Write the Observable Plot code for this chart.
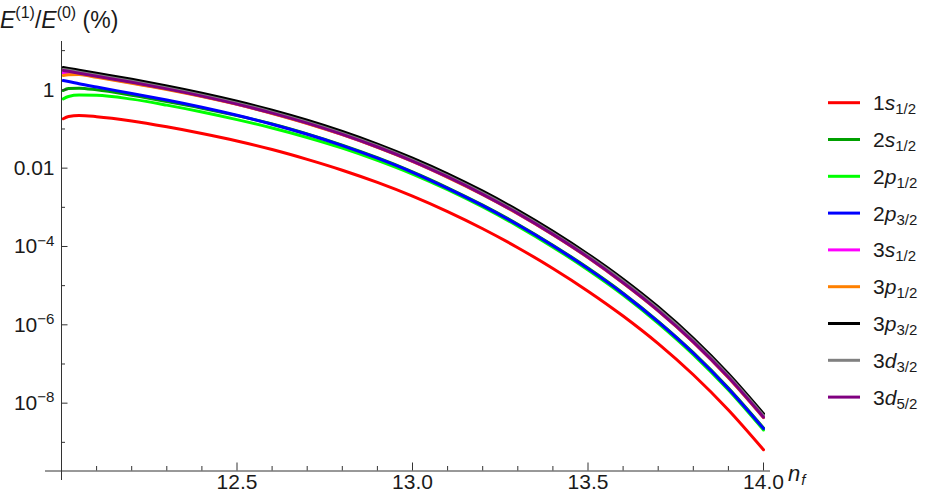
<!DOCTYPE html>
<html><head><meta charset="utf-8">
<script src="https://cdn.jsdelivr.net/npm/d3@7"></script>
<script src="https://cdn.jsdelivr.net/npm/@observablehq/plot@0.6"></script>
<style>body{margin:0;background:#fff}</style>
</head><body><div id="chart"></div>
<script>
// n_f sample positions
const nf = [12.005, 12.02, 12.05, 12.1, 12.2, 12.3, 12.4, 12.5, 12.6, 12.7, 12.8, 12.9, 13.0, 13.1, 13.2, 13.3, 13.4, 13.5, 13.6, 13.7, 13.8, 13.9, 14.0];
// log10 of E(1)/E(0) in %
const s1s12 = [-0.740, -0.682, -0.656, -0.685, -0.795, -0.945, -1.115, -1.305, -1.525, -1.776, -2.053, -2.365, -2.715, -3.110, -3.548, -4.031, -4.561, -5.140, -5.775, -6.480, -7.275, -8.175, -9.190];
const s2s12 = [-0.018, 0.033, 0.043, 0.000, -0.140, -0.300, -0.470, -0.660, -0.872, -1.126, -1.413, -1.735, -2.095, -2.500, -2.943, -3.431, -3.966, -4.550, -5.190, -5.910, -6.710, -7.615, -8.635];
const s2p12 = [-0.230, -0.171, -0.135, -0.140, -0.238, -0.391, -0.566, -0.761, -0.975, -1.216, -1.488, -1.800, -2.150, -2.550, -2.993, -3.481, -4.016, -4.600, -5.240, -5.960, -6.760, -7.665, -8.685];
const s2p32 = [0.237, 0.212, 0.156, 0.071, -0.093, -0.261, -0.446, -0.651, -0.880, -1.136, -1.423, -1.745, -2.105, -2.515, -2.958, -3.446, -3.981, -4.565, -5.205, -5.925, -6.725, -7.630, -8.650];
const s3s12 = [0.434, 0.421, 0.401, 0.335, 0.180, 0.017, -0.166, -0.369, -0.600, -0.856, -1.143, -1.465, -1.825, -2.230, -2.673, -3.161, -3.696, -4.280, -4.930, -5.640, -6.440, -7.345, -8.365];
const s3p12 = [0.365, 0.386, 0.391, 0.320, 0.170, 0.010, -0.170, -0.372, -0.603, -0.859, -1.146, -1.468, -1.828, -2.233, -2.676, -3.164, -3.699, -4.283, -4.933, -5.643, -6.443, -7.348, -8.368];
const s3p32 = [0.570, 0.547, 0.500, 0.422, 0.267, 0.099, -0.086, -0.291, -0.520, -0.776, -1.063, -1.385, -1.745, -2.145, -2.588, -3.076, -3.611, -4.195, -4.835, -5.545, -6.345, -7.250, -8.270];
const s3d32 = [0.520, 0.497, 0.450, 0.372, 0.217, 0.049, -0.136, -0.341, -0.570, -0.826, -1.113, -1.435, -1.795, -2.195, -2.638, -3.126, -3.661, -4.245, -4.885, -5.595, -6.395, -7.300, -8.320];
const s3d52 = [0.495, 0.472, 0.425, 0.347, 0.192, 0.024, -0.161, -0.366, -0.595, -0.851, -1.138, -1.460, -1.820, -2.225, -2.668, -3.156, -3.691, -4.275, -4.925, -5.635, -6.435, -7.340, -8.360];

const seriesNames = ["1s1/2", "2s1/2", "2p1/2", "2p3/2", "3s1/2", "3p1/2", "3p3/2", "3d3/2", "3d5/2"];
const seriesLogs = [s1s12, s2s12, s2p12, s2p32, s3s12, s3p12, s3p32, s3d32, s3d52];
const seriesColors = ["#ff0000", "#00a000", "#00ff00", "#0000ff", "#ff00ff", "#ff8000", "#000000", "#808080", "#800080"];
const legendParts = [["1","s","1/2"],["2","s","1/2"],["2","p","1/2"],["2","p","3/2"],["3","s","1/2"],["3","p","1/2"],["3","p","3/2"],["3","d","3/2"],["3","d","5/2"]];

const xMajor = [12.5, 13.0, 13.5, 14.0];
const xMinor = [12.1, 12.2, 12.3, 12.4, 12.6, 12.7, 12.8, 12.9, 13.1, 13.2, 13.3, 13.4, 13.6, 13.7, 13.8, 13.9];
const yMajor = [1, 0.01, 1e-4, 1e-6, 1e-8];
const yMajorLabels = ["1", "0.01", "10^\u22124", "10^\u22126", "10^\u22128"];
const yMinor = [10, 0.1, 1e-3, 1e-5, 1e-7, 1e-9];

const rows = [];
seriesNames.forEach((s, i) => nf.forEach((n, j) => rows.push({series: s, n, v: Math.pow(10, seriesLogs[i][j])})));

const W = 926, H = 503, mL = 61, mR = 163, mT = 40, mB = 32.5;
const frameW = W - mL - mR, frameH = H - mT - mB;
const axisColor = "#333", textColor = "#1a1a1a";
const font = "'Liberation Sans', Arial, sans-serif";

const plot = Plot.plot({
  width: W, height: H,
  marginLeft: mL, marginRight: mR, marginTop: mT, marginBottom: mB,
  style: {fontFamily: font, fontSize: "21px", background: "#fff", color: textColor, overflow: "visible"},
  x: {domain: [12, 14], axis: null},
  y: {type: "log", domain: [1.854e-10, 18.15], axis: null},
  color: {domain: seriesNames, range: seriesColors},
  marks: [
    Plot.line(rows, {x: "n", y: "v", z: "series", stroke: "series", strokeWidth: 3, curve: "monotone-x", strokeLinecap: "round", strokeLinejoin: "round"}),
    Plot.ruleY([1.854e-10], {insetLeft: -16, insetRight: -7, stroke: axisColor}),
    Plot.ruleX([12], {insetTop: 1, insetBottom: -9.5, stroke: axisColor}),
    Plot.tickX(xMajor, {x: d => d, insetTop: frameH - 8, stroke: axisColor}),
    Plot.tickX(xMinor, {x: d => d, insetTop: frameH - 4.5, stroke: axisColor}),
    Plot.tickY(yMajor, {y: d => d, insetRight: frameW - 6.5, stroke: axisColor}),
    Plot.tickY(yMinor, {y: d => d, insetRight: frameW - 4, stroke: axisColor}),
    Plot.text(xMajor, {x: d => d, text: d => d.toFixed(1), frameAnchor: "bottom", dy: 18, fontSize: 21, fill: textColor}),
    Plot.text(yMajor, {y: d => d, text: (d, i) => yMajorLabels[i], frameAnchor: "left", textAnchor: "end", dx: -7, fontSize: 21, fill: textColor})
  ]
});
document.getElementById("chart").appendChild(plot);

const svg = d3.select(plot);
// superscripts for 10^n labels
svg.selectAll("text").each(function() {
  const t = this.textContent;
  const m = t.match(/^10\^(.+)$/);
  if (m) {
    const el = d3.select(this);
    el.text("10");
    el.append("tspan").attr("dy", "-0.5em").attr("font-size", "0.72em").text(m[1]);
  }
});

// title
const title = svg.append("text").attr("x", 0).attr("y", 28).attr("font-size", 23).attr("fill", textColor).attr("font-family", font).attr("text-anchor", "start");
title.append("tspan").attr("font-style", "italic").text("E");
title.append("tspan").attr("font-size", 16).attr("dy", -10).text("(1)");
title.append("tspan").attr("dy", 10).text("/");
title.append("tspan").attr("font-style", "italic").text("E");
title.append("tspan").attr("font-size", 16).attr("dy", -10).text("(0)");
title.append("tspan").attr("dy", 10).text(" (%)");

// x axis label n_f
const xl = svg.append("text").attr("x", 788).attr("y", 481).attr("font-size", 22).attr("fill", textColor).attr("font-family", font).attr("font-style", "italic").attr("text-anchor", "start");
xl.append("tspan").text("n");
xl.append("tspan").attr("font-size", 15).attr("dy", 4).attr("dx", 1).text("f");

// legend
const lg = svg.append("g").attr("font-family", font).attr("fill", textColor).attr("text-anchor", "start");
legendParts.forEach((p, i) => {
  const y = 102.7 + i * 36.8;
  lg.append("line").attr("x1", 828).attr("x2", 860).attr("y1", y).attr("y2", y).attr("stroke", seriesColors[i]).attr("stroke-width", 3);
  const t = lg.append("text").attr("x", 873).attr("y", y + 7.5).attr("font-size", 21);
  t.append("tspan").text(p[0]);
  t.append("tspan").attr("font-style", "italic").text(p[1]);
  t.append("tspan").attr("font-size", 15).attr("dy", 4).text(p[2]);
});
</script>
</body></html>
